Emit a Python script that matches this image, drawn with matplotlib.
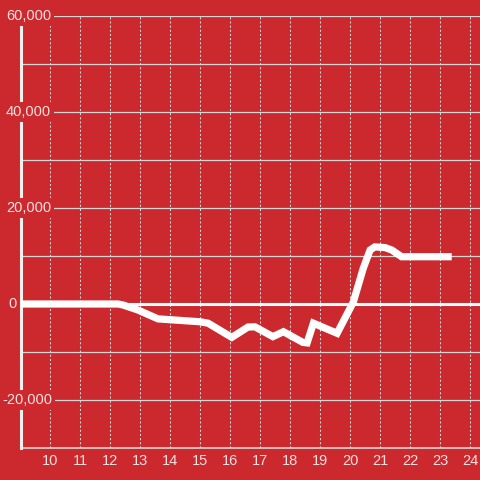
import matplotlib
matplotlib.use("Agg")
import matplotlib.pyplot as plt
import matplotlib.transforms as mtransforms

# ---- data ----
hours = [9.03, 12.27, 12.43, 12.93, 13.6, 15.0, 15.27, 16.06, 16.6, 16.83, 17.43,
         17.78, 18.43, 18.57, 18.78, 19.57, 20.11, 20.44, 20.67, 20.83, 21.17,
         21.39, 21.72, 23.39]
values = [0, 0, -200, -1250, -3100, -3700, -4000, -6950, -4800, -4750, -6800,
          -5770, -8000, -8100, -4000, -6100, 400, 7400, 11250, 11900, 11750,
          11250, 9850, 9850]
x_ticks = [10, 11, 12, 13, 14, 15, 16, 17, 18, 19, 20, 21, 22, 23, 24]
y_grid = [-20000, -10000, 10000, 20000, 30000, 40000, 50000, 60000]
y_labels = {60000: "60,000", 40000: "40,000", 20000: "20,000", 0: "0", -20000: "-20,000"}

BG = "#CC292E"
TXT = "#F3E0E0"
GRID = "#D6D6D6"

W = H = 480
fig = plt.figure(figsize=(4.8, 4.8), dpi=100, facecolor=BG)
ax = fig.add_axes([21 / W, 32 / H, (480 - 21) / W, (448 - 16) / H])
ax.set_facecolor(BG)
ax.set_xlim(9.0333, 24.3333)
ax.set_ylim(-30000, 60000)
for s in ax.spines.values():
    s.set_visible(False)
ax.set_xticks([])
ax.set_yticks([])

# vertical dotted grid
for xt in x_ticks:
    ax.axvline(xt, color=GRID, lw=0.75, linestyle=(0, (2, 2)), zorder=1)
# horizontal grid
for yv in y_grid:
    ax.axhline(yv, color=GRID, lw=0.9, zorder=1)
# bottom line
ax.axhline(-30000, color=GRID, lw=1.2, zorder=1, clip_on=False)
# zero line
ax.axhline(0, color="white", lw=2.2, zorder=2)
# left spine
ax.axvline(9.0333, color="#F0F0F0", lw=2.2, zorder=2, clip_on=False)

# data line
ax.plot(hours, values, color="white", lw=5.2, solid_joinstyle="miter",
        solid_capstyle="butt", zorder=3)

# y labels
tr = mtransforms.blended_transform_factory(fig.transFigure, ax.transData)
for v, lab in y_labels.items():
    x0 = 2 if v < 0 else (8 if v == 0 else 6)
    ax.text(x0 / W, v, lab, transform=tr, ha="left", va="center",
            fontsize=10.5, color=TXT, family="Liberation Sans", zorder=5,
            clip_on=False,
            bbox=dict(boxstyle="square,pad=0.2", fc=BG, ec="none"))

# x labels
off = mtransforms.ScaledTranslation(0, -6 / 100, fig.dpi_scale_trans)
for xt in x_ticks:
    ax.text(xt, -30000, str(xt), transform=ax.transData + off, ha="center", va="top",
            fontsize=10.5, color=TXT, family="Liberation Sans", zorder=5,
            clip_on=False)

fig.savefig("out.png", dpi=100, facecolor=BG)
